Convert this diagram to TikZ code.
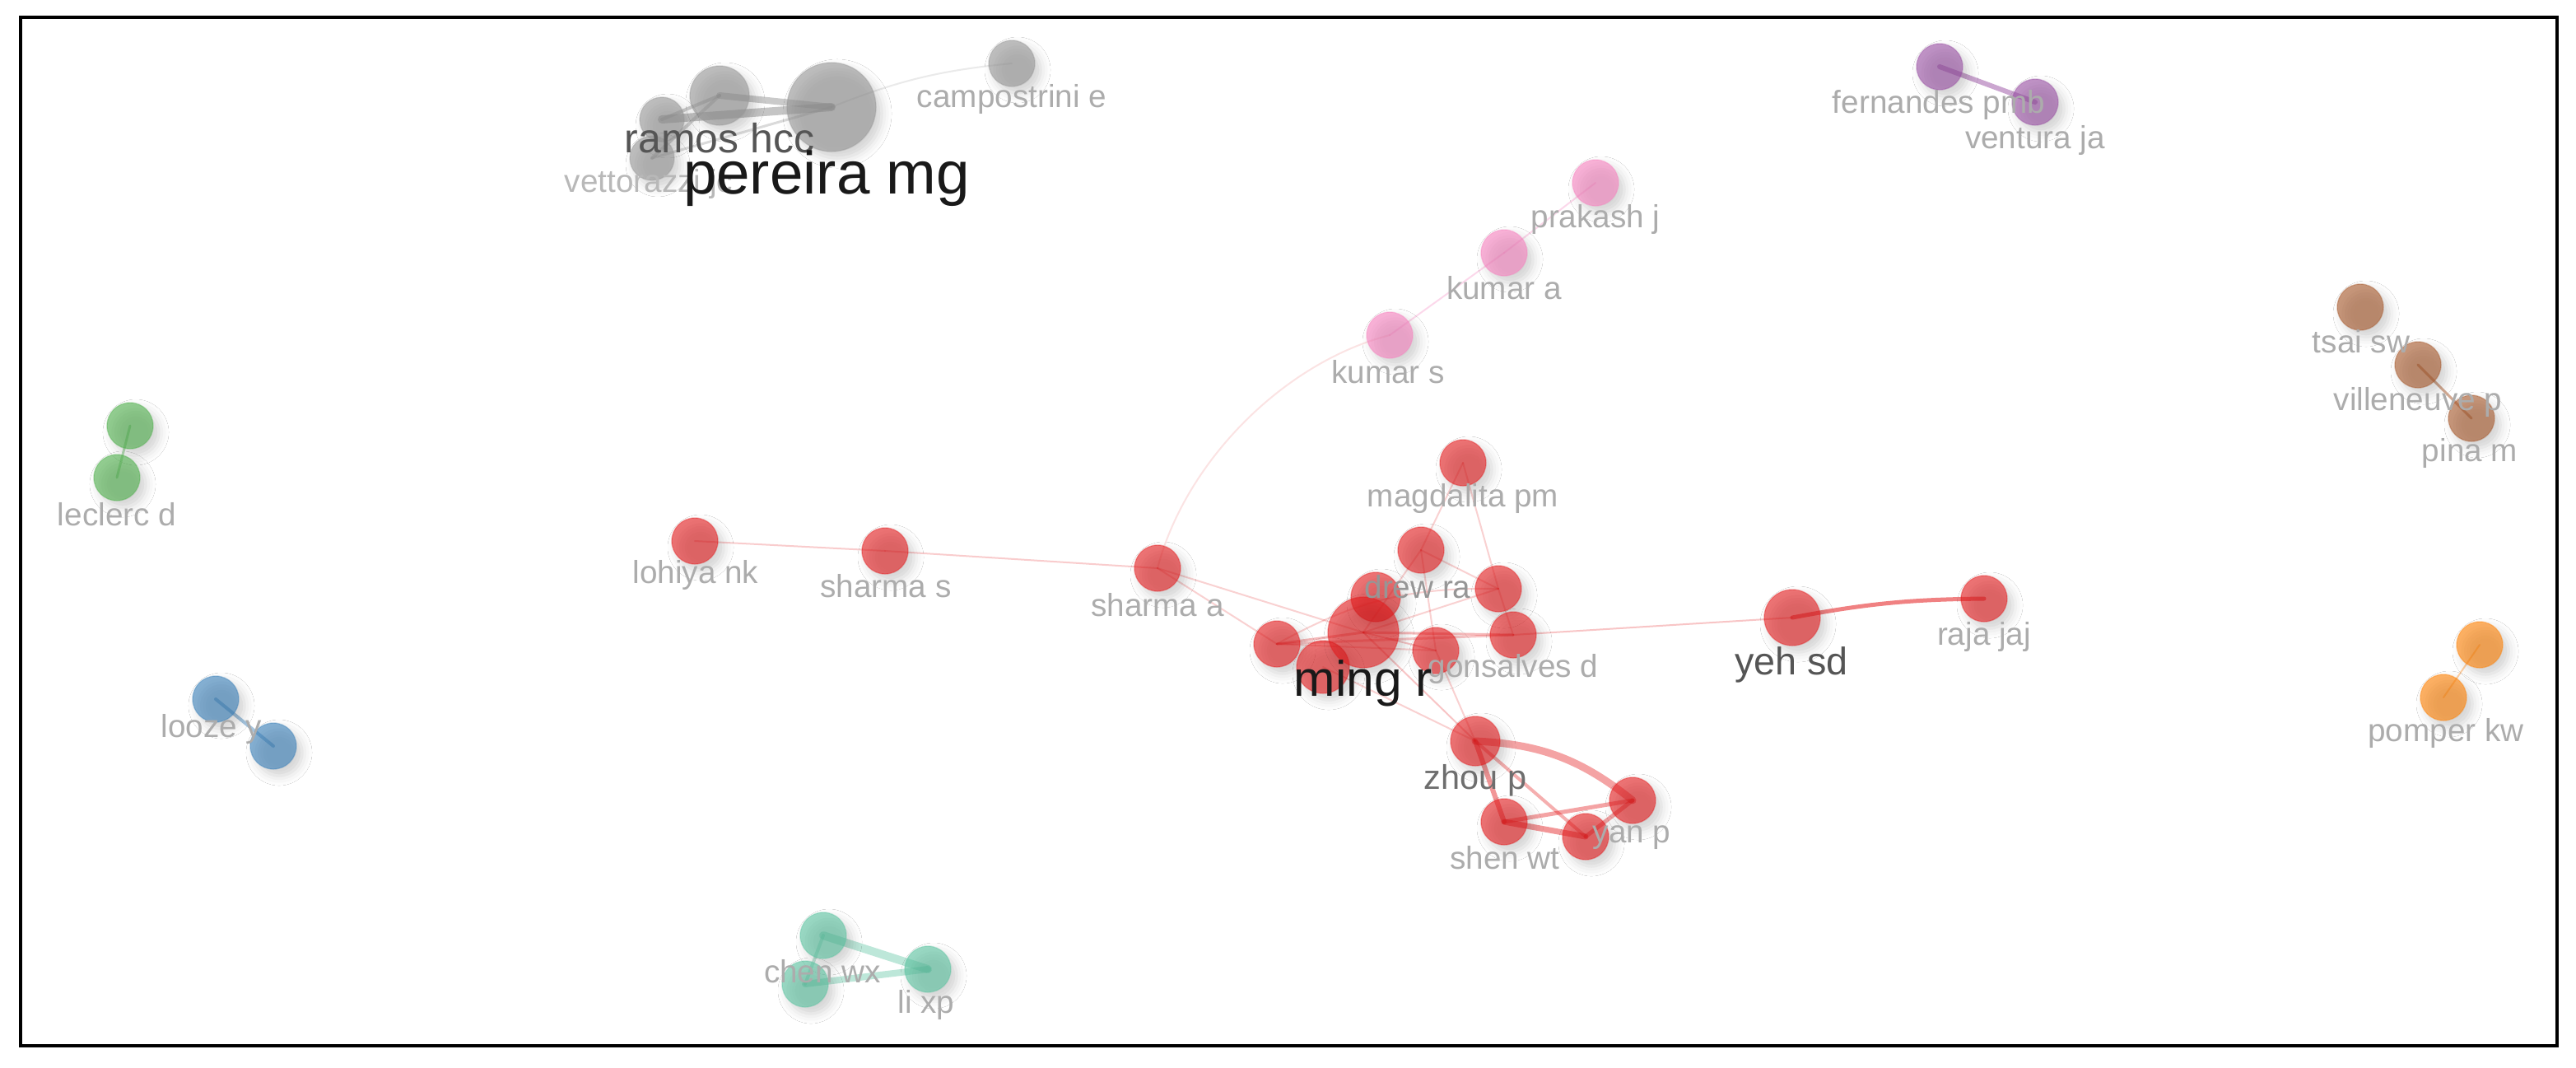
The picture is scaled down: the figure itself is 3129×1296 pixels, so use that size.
\documentclass[tikz,border=0pt]{standalone}
\usepackage{fontspec}
\newfontfamily\lblfont{Liberation Sans}
\usetikzlibrary{shadows.blur}
\pgfdeclarelayer{bg}
\pgfsetlayers{bg,main}
\definecolor{cred}{RGB}{228,26,28}
\definecolor{cpink}{RGB}{247,129,191}
\definecolor{cgreen}{RGB}{77,175,74}
\definecolor{cblue}{RGB}{55,126,184}
\definecolor{cpurple}{RGB}{152,78,163}
\definecolor{corange}{RGB}{255,127,0}
\definecolor{cbrown}{RGB}{166,86,40}
\definecolor{cteal}{RGB}{90,195,160}
\definecolor{cgray}{RGB}{150,150,150}
\definecolor{labgray}{RGB}{172,172,172}
\definecolor{labmid}{RGB}{150,150,150}
\definecolor{labdark}{RGB}{85,85,85}
\definecolor{labblack}{RGB}{25,25,25}
\tikzset{
  nd/.style={circle, inner sep=0pt, fill=#1, fill opacity=0.6, draw=#1, draw opacity=0.35, line width=0.4pt,
    blur shadow={shadow xshift=0.07cm, shadow yshift=-0.08cm, shadow blur radius=0.12cm, shadow opacity=30}},
  rad/.style={minimum size=#1*0.02cm},
  ed/.style={draw=#1, line cap=round},
  lab/.style={inner sep=0pt, text=labgray, font=\lblfont\fontsize{11}{13}\selectfont},
}
\begin{document}
\begin{tikzpicture}[x=0.01cm, y=-0.01cm]
\useasboundingbox (0,0) rectangle (3129,1296);

% ---------- gray cluster
\node[nd=cgray, rad=54] (pereira) at (1010,130) {};
\node[nd=cgray, rad=36] (ramos) at (874,116) {};
\node[nd=cgray, rad=27] (grayl) at (804,145) {};
\node[nd=cgray, rad=27] (vett) at (792,192) {};
\node[nd=cgray, rad=28] (campo) at (1229,77) {};
% ---------- pink cluster
\node[nd=cpink, rad=28] (prakash) at (1938,222) {};
\node[nd=cpink, rad=28] (kumara) at (1827,307) {};
\node[nd=cpink, rad=28] (kumars) at (1688,407) {};
% ---------- purple
\node[nd=cpurple, rad=28] (fern) at (2356,81) {};
\node[nd=cpurple, rad=28] (vent) at (2472,124) {};
% ---------- brown
\node[nd=cbrown, rad=28] (tsai) at (2867,373) {};
\node[nd=cbrown, rad=28] (vill) at (2937,443) {};
\node[nd=cbrown, rad=28] (pina) at (3002,508) {};
% ---------- orange
\node[nd=corange, rad=28] (orup) at (3012,783) {};
\node[nd=corange, rad=28] (pomper) at (2968,847) {};
% ---------- green
\node[nd=cgreen, rad=28] (grup) at (158,517) {};
\node[nd=cgreen, rad=28] (leclerc) at (142,580) {};
% ---------- blue
\node[nd=cblue, rad=28] (looze) at (262,849) {};
\node[nd=cblue, rad=28] (blow) at (332,906) {};
% ---------- teal
\node[nd=cteal, rad=28] (chen) at (1000,1136) {};
\node[nd=cteal, rad=28] (tlow) at (978,1195) {};
\node[nd=cteal, rad=28] (lixp) at (1127,1177) {};
% ---------- red cluster
\node[nd=cred, rad=28] (lohiya) at (844,657) {};
\node[nd=cred, rad=28] (sharmas) at (1075,669) {};
\node[nd=cred, rad=28] (sharmaa) at (1406,690) {};
\node[nd=cred, rad=28] (magd) at (1777,562) {};
\node[nd=cred, rad=28] (drew) at (1726,668) {};
\node[nd=cred, rad=28] (rn2) at (1820,715) {};
\node[nd=cred, rad=28] (gons) at (1838,771) {};
\node[nd=cred, rad=28] (rn4) at (1744,790) {};
\node[nd=cred, rad=28] (rnl) at (1551,782) {};
\node[nd=cred, rad=32] (rn7) at (1607,810) {};
\node[nd=cred, rad=30] (rn6) at (1671,725) {};
\node[nd=cred, rad=43] (ming) at (1656,768) {};
\node[nd=cred, rad=34] (yeh) at (2177,750) {};
\node[nd=cred, rad=28] (raja) at (2410,727) {};
\node[nd=cred, rad=30] (zhou) at (1792,900) {};
\node[nd=cred, rad=28] (shen) at (1827,998) {};
\node[nd=cred, rad=28] (rn9) at (1926,1016) {};
\node[nd=cred, rad=28] (yan) at (1983,972) {};

\begin{pgfonlayer}{bg}
\fill[white] (0,0) rectangle (3129,1296);
% gray edges
\draw[ed=cgray, line width=10*0.01cm, opacity=0.55] (grayl.center) -- (pereira.center);
\draw[ed=cgray, line width=8*0.01cm, opacity=0.5] (ramos.center) -- (pereira.center);
\draw[ed=cgray, line width=4*0.01cm, opacity=0.45] (grayl.center) -- (ramos.center);
\draw[ed=cgray, line width=4*0.01cm, opacity=0.4] (vett.center) -- (ramos.center);
\draw[ed=cgray, line width=3*0.01cm, opacity=0.35] (vett.center) -- (pereira.center);
\draw[ed=cgray, line width=2*0.01cm, opacity=0.2] (pereira.center) to[bend left=8] (campo.center);
% pink
\draw[ed=cpink, line width=2*0.01cm, opacity=0.3] (prakash.center) -- (kumara.center);
\draw[ed=cpink, line width=2*0.01cm, opacity=0.3] (kumara.center) -- (kumars.center);
\draw[ed=cred, line width=2*0.01cm, opacity=0.12] (sharmaa.center) .. controls (1440,560) and (1560,440) .. (kumars.center);
% purple, brown, orange, green, blue
\draw[ed=cpurple, line width=6*0.01cm, opacity=0.5] (fern.center) -- (vent.center);
\draw[ed=cbrown, line width=3*0.01cm, opacity=0.5] (vill.center) -- (pina.center);
\draw[ed=corange, line width=2*0.01cm, opacity=0.35] (orup.center) -- (pomper.center);
\draw[ed=cgreen, line width=3*0.01cm, opacity=0.4] (grup.center) -- (leclerc.center);
\draw[ed=cblue, line width=4*0.01cm, opacity=0.45] (looze.center) -- (blow.center);
% teal
\draw[ed=cteal, line width=10*0.01cm, opacity=0.4] (chen.center) -- (lixp.center);
\draw[ed=cteal, line width=8*0.01cm, opacity=0.4] (tlow.center) -- (lixp.center);
\draw[ed=cteal, line width=4*0.01cm, opacity=0.35] (chen.center) -- (tlow.center);
% red
\draw[ed=cred, line width=2*0.01cm, opacity=0.22] (lohiya.center) -- (sharmas.center);
\draw[ed=cred, line width=2*0.01cm, opacity=0.22] (sharmas.center) -- (sharmaa.center);
\draw[ed=cred, line width=2*0.01cm, opacity=0.2] (sharmaa.center) -- (rnl.center);
\draw[ed=cred, line width=2*0.01cm, opacity=0.2] (sharmaa.center) -- (ming.center);
\draw[ed=cred, line width=2*0.01cm, opacity=0.2] (magd.center) -- (drew.center);
\draw[ed=cred, line width=2*0.01cm, opacity=0.2] (magd.center) -- (rn2.center);
\draw[ed=cred, line width=2*0.01cm, opacity=0.2] (drew.center) -- (rn2.center);
\draw[ed=cred, line width=2*0.01cm, opacity=0.2] (drew.center) -- (rn4.center);
\draw[ed=cred, line width=2*0.01cm, opacity=0.2] (drew.center) -- (ming.center);
\draw[ed=cred, line width=2*0.01cm, opacity=0.2] (rnl.center) to[bend left=15] (rn2.center);
\draw[ed=cred, line width=3*0.01cm, opacity=0.25] (rnl.center) -- (gons.center);
\draw[ed=cred, line width=2*0.01cm, opacity=0.2] (rnl.center) -- (rn4.center);
\draw[ed=cred, line width=3*0.01cm, opacity=0.3] (rnl.center) -- (ming.center);
\draw[ed=cred, line width=3*0.01cm, opacity=0.3] (ming.center) -- (gons.center);
\draw[ed=cred, line width=2*0.01cm, opacity=0.2] (ming.center) -- (rn2.center);
\draw[ed=cred, line width=2*0.01cm, opacity=0.25] (ming.center) -- (rn4.center);
\draw[ed=cred, line width=2*0.01cm, opacity=0.25] (ming.center) -- (zhou.center);
\draw[ed=cred, line width=2*0.01cm, opacity=0.2] (rn7.center) -- (zhou.center);
\draw[ed=cred, line width=2*0.01cm, opacity=0.2] (rn4.center) -- (zhou.center);
\draw[ed=cred, line width=2*0.01cm, opacity=0.2] (rn2.center) -- (gons.center);
\draw[ed=cred, line width=2*0.01cm, opacity=0.25] (gons.center) -- (yeh.center);
\draw[ed=cred, line width=5*0.01cm, opacity=0.55] (yeh.center) to[bend left=5] (raja.center);
\draw[ed=cred, line width=9*0.01cm, opacity=0.4] (zhou.center) to[bend left=18] (yan.center);
\draw[ed=cred, line width=6*0.01cm, opacity=0.45] (zhou.center) -- (shen.center);
\draw[ed=cred, line width=4*0.01cm, opacity=0.35] (zhou.center) -- (rn9.center);
\draw[ed=cred, line width=7*0.01cm, opacity=0.45] (shen.center) -- (rn9.center);
\draw[ed=cred, line width=5*0.01cm, opacity=0.4] (shen.center) -- (yan.center);
\draw[ed=cred, line width=5*0.01cm, opacity=0.4] (rn9.center) -- (yan.center);
\end{pgfonlayer}

% ---------- labels
\node[lab, text=labgray!85] (l-vett) at (788,223) {vettorazzi jc};
\node[lab] (l-campo) at (1229,120) {campostrini e};
\node[lab, text=labdark, font=\lblfont\fontsize{14.2}{16}\selectfont] (l-ramos) at (874,168) {ramos hcc};
\node[lab, text=labblack, font=\lblfont\fontsize{20.7}{24}\selectfont] (l-pereira) at (1004,217) {pereira mg};
\node[lab] (l-prakash) at (1938,266) {prakash j};
\node[lab] (l-kumara) at (1827,350) {kumar a};
\node[lab] (l-kumars) at (1686,452) {kumar s};
\node[lab] (l-fern) at (2355,127) {fernandes pmb};
\node[lab] (l-vent) at (2472,170) {ventura ja};
\node[lab] (l-tsai) at (2868,415) {tsai sw};
\node[lab] (l-vill) at (2937,488) {villeneuve p};
\node[lab] (l-pina) at (3000,550) {pina m};
\node[lab] (l-pomper) at (2971,890) {pomper kw};
\node[lab] (l-leclerc) at (142,625) {leclerc d};
\node[lab] (l-looze) at (257,885) {looze y};
\node[lab] (l-chen) at (999,1180) {chen wx};
\node[lab] (l-li) at (1125,1220) {li xp};
\node[lab] (l-lohiya) at (845,698) {lohiya nk};
\node[lab] (l-sharmas) at (1076,712) {sharma s};
\node[lab] (l-sharmaa) at (1406,735) {sharma a};
\node[lab] (l-magd) at (1777,605) {magdalita pm};
\node[lab, text=labmid] (l-drew) at (1722,713) {drew ra};
\node[lab] (l-gons) at (1838,812) {gonsalves d};
\node[lab] (l-raja) at (2410,773) {raja jaj};
\node[lab] (l-shen) at (1828,1042) {shen wt};
\node[lab] (l-yan) at (1982,1017) {yan p};
\node[lab, text=labdark!85!white, font=\lblfont\fontsize{11.8}{14}\selectfont] (l-zhou) at (1792,948) {zhou p};
\node[lab, text=labdark, font=\lblfont\fontsize{13.3}{16}\selectfont] (l-yeh) at (2176,807) {yeh sd};
\node[lab, text=labblack, font=\lblfont\fontsize{17.2}{20}\selectfont] (l-ming) at (1656,830) {ming r};

% frame
\draw[line width=0.9pt] (25,21) rectangle (3106,1270);
\end{tikzpicture}
\end{document}
